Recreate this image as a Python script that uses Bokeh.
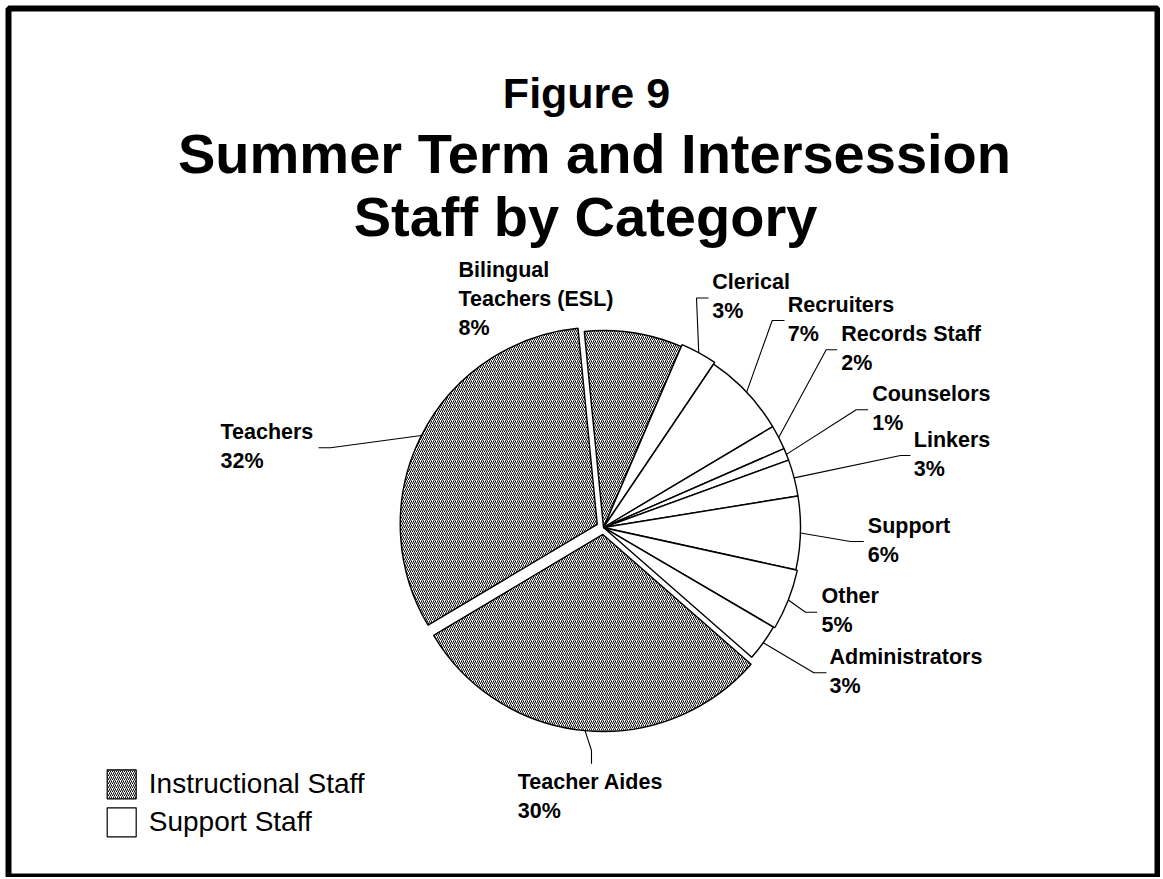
import math
from bokeh.plotting import figure
from bokeh.models import Range1d, ColumnDataSource
from bokeh.core.properties import value
from bokeh.embed import file_html
from bokeh.resources import INLINE

# ---------------- data ----------------
title_lines = ["Figure 9", "Summer Term and Intersession", "Staff by Category"]
categories = ["Bilingual Teachers (ESL)", "Clerical", "Recruiters", "Records Staff",
              "Counselors", "Linkers", "Support", "Other", "Administrators",
              "Teacher Aides", "Teachers"]
label_lines = [["Bilingual", "Teachers (ESL)"], ["Clerical"], ["Recruiters"],
               ["Records Staff"], ["Counselors"], ["Linkers"], ["Support"],
               ["Other"], ["Administrators"], ["Teacher Aides"], ["Teachers"]]
percents = [8, 3, 7, 2, 1, 3, 6, 5, 3, 30, 32]
groups = ["Instructional", "Support", "Support", "Support", "Support", "Support",
          "Support", "Support", "Support", "Instructional", "Instructional"]
legend_labels = ["Instructional Staff", "Support Staff"]
legend_groups = ["Instructional", "Support"]

# ---------------- layout (screen px) ----------------
W, H = 1160, 877
def X(sx): return sx
def Y(sy): return H - sy
BASE_FIX = 0.4   # text baseline correction (fraction of font size)

CX, CY, R = 603, 527, 197
START_DEG = 95.6
explode = [0, 2, 0, 0, 0, 0, 0, 1.5, 0, 7, 7]
label_pos = [(458, 263), (711.7, 275), (787.3, 298), (840.7, 327), (871.7, 387),
             (913.3, 432.5), (867.3, 518.5), (821, 589), (829, 650), (517.3, 775),
             (220, 425)]
leader_pts = [None,
              [(696, 297.5), (708, 297.5)],
              [(771.7, 320), (784, 320)],
              [(825.7, 349.3), (836.7, 349.3)],
              [(855.7, 409.3), (867.7, 409.3)],
              [(900, 455), (910, 455)],
              [(850, 541), (863.3, 541)],
              [(805, 611.7), (816.7, 611.7)],
              [(813.3, 672.3), (826, 672.3)],
              [(591, 750), (591, 763.3)],
              [(330, 447.3), (318, 447.3)]]

FONT = value("Liberation Sans")
HATCH = dict(hatch_color="black", hatch_scale=4, hatch_weight=1.0)

p = figure(width=W, height=H, output_backend="svg", toolbar_location=None,
           x_range=Range1d(0, W), y_range=Range1d(0, H),
           min_border=0, outline_line_color=None)
p.axis.visible = False
p.grid.visible = False
p.background_fill_color = "white"
p.border_fill_color = "white"

def put_text(x, base, txt, fs, bold=True, align="left"):
    p.text(x=[X(x)], y=[Y(base - BASE_FIX * fs)], text=[txt], text_font=FONT,
           text_font_style="bold" if bold else "normal", text_font_size="%gpx" % fs,
           text_color="black", text_align=align, text_baseline="alphabetic")

# ---------------- pie ----------------
total = float(sum(percents))
xs, ys, starts, ends, hatches, mids = [], [], [], [], [], []
a = math.radians(START_DEG)
for i, v in enumerate(percents):
    w = 2 * math.pi * v / total
    s, e = a - w, a
    mid = (s + e) / 2
    ox = X(CX) + explode[i] * math.cos(mid)
    oy = Y(CY) + explode[i] * math.sin(mid)
    xs.append(ox); ys.append(oy); starts.append(s); ends.append(e); mids.append(mid)
    hatches.append("/" if groups[i] == "Instructional" else " ")
    a = s

src = ColumnDataSource(dict(x=xs, y=ys, start=starts, end=ends, hatch=hatches))
p.wedge(x="x", y="y", radius=R, start_angle="start", end_angle="end",
        direction="anticlock", source=src, fill_color="white",
        hatch_pattern="hatch", line_color="black", line_width=1.4, **HATCH)

# ---------------- leaders & labels ----------------
LFS = 21.5
for i, name in enumerate(categories):
    tx, top = label_pos[i]
    lines = label_lines[i] + ["%d%%" % percents[i]]
    for k, ln in enumerate(lines):
        put_text(tx, top + 15.5 + 29 * k, ln, LFS)
    if leader_pts[i] is not None:
        px = xs[i] + R * math.cos(mids[i])
        py = ys[i] + R * math.sin(mids[i])
        lx = [px] + [X(q[0]) for q in leader_pts[i]]
        ly = [py] + [Y(q[1]) for q in leader_pts[i]]
        p.line(lx, ly, line_color="black", line_width=1.1)

# ---------------- title ----------------
title_pos = [(586, 110, 43), (594, 175, 56), (585, 238, 56)]
for t, (tx, base, fs) in zip(title_lines, title_pos):
    put_text(tx, base, t, fs, align="center")

# ---------------- legend ----------------
leg_box = [(106.7, 769.3), (106.7, 807.3)]
for g, lab, (bx, by) in zip(legend_groups, legend_labels, leg_box):
    p.quad(left=[X(bx)], right=[X(bx + 29)], top=[Y(by)], bottom=[Y(by + 29)],
           fill_color="white", line_color="black", line_width=1.2,
           hatch_pattern="/" if g == "Instructional" else " ", **HATCH)
    put_text(148.3, by + 24.7, lab, 28, bold=False)

# ---------------- frame ----------------
p.quad(left=[X(8)], right=[X(1157)], top=[Y(8)], bottom=[Y(876)],
       fill_color=None, line_color="black", line_width=6)

open("out.html", "w").write(file_html(p, INLINE))
